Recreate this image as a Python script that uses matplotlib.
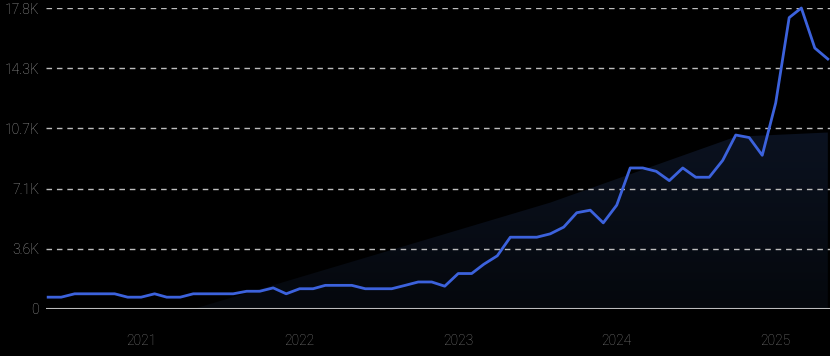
import numpy as np
import pandas as pd
import matplotlib
matplotlib.use("Agg")
import matplotlib.pyplot as plt
from matplotlib.patches import Polygon

# monthly values, Jun 2020 .. May 2025
months = pd.date_range("2020-06-01", periods=60, freq="MS")
values = [
    700, 700, 900, 900, 900, 900, 700, 700, 900, 700,
    700, 900, 900, 900, 900, 1050, 1050, 1250, 900, 1200,
    1200, 1400, 1400, 1400, 1200, 1200, 1200, 1400, 1600, 1600,
    1350, 2100, 2100, 2650, 3150, 4250, 4250, 4250, 4450, 4850,
    5700, 5850, 5100, 6150, 8350, 8350, 8150, 7600, 8350, 7800,
    7800, 8800, 10300, 10150, 9100, 12200, 17250, 17820, 15450, 14800,
]

# background trend band (vertices)
band_dates = pd.to_datetime(["2021-05-01", "2023-08-01", "2024-10-01", "2025-05-01"])
band_values = [0, 6300, 10200, 10450]

ymax = max(values)
yticks = np.linspace(0, ymax, 6)
ytick_labels = ["0"] + [f"{v / 1000:.1f}K" for v in yticks[1:]]
year_ticks = pd.to_datetime(["2021-01-01", "2022-01-01", "2023-01-01", "2024-01-01", "2025-01-01"])
year_labels = ["2021", "2022", "2023", "2024", "2025"]

plt.rcParams["font.family"] = ["Roboto", "DejaVu Sans"]

fig = plt.figure(figsize=(8.3, 3.56), dpi=100, facecolor="black")
ax = fig.add_axes([46 / 830, 47 / 356, 784 / 830, 301 / 356], facecolor="black")

x0 = months[0] - pd.Timedelta(days=5)
x1 = months[-1] + pd.Timedelta(days=5)
ax.set_xlim(x0, x1)
ax.set_ylim(0, ymax)

# gradient band clipped to polygon
bx = matplotlib.dates.date2num(band_dates)
poly_pts = [(bx[0], 0)] + list(zip(bx, band_values)) + [(bx[-1], 0)]
poly = Polygon(poly_pts, closed=True, facecolor="none", edgecolor="none")
ax.add_patch(poly)
grad = np.linspace(0, 1, 256).reshape(-1, 1)
cmap = matplotlib.colors.LinearSegmentedColormap.from_list("band", ["#05080d", "#0b1220"])
im = ax.imshow(grad, cmap=cmap, aspect="auto", origin="lower",
               extent=[bx[0], bx[-1], 0, max(band_values)], zorder=1)
im.set_clip_path(poly)

for v in yticks[1:]:
    ax.axhline(v, color="#bdbdbd", lw=1, ls=(0, (4, 3.5)), zorder=2)
ax.axhline(0, color="#bcbcbc", lw=1.5, zorder=2)

ax.plot(months, values, color="#3c62dc", lw=2.0, zorder=3, clip_on=False,
        solid_joinstyle="round")

for s in ax.spines.values():
    s.set_visible(False)
ax.set_yticks(yticks)
ax.set_yticklabels(ytick_labels, fontweight="light")
ax.set_xticks(year_ticks)
ax.set_xticklabels(year_labels, fontweight="light")
ax.tick_params(axis="y", length=0, pad=5, labelsize=10, labelcolor="#a0a0a0")
ax.tick_params(axis="x", length=0, pad=18, labelsize=10, labelcolor="#7a7a7a")

fig.savefig("out.png", dpi=100, facecolor="black")
